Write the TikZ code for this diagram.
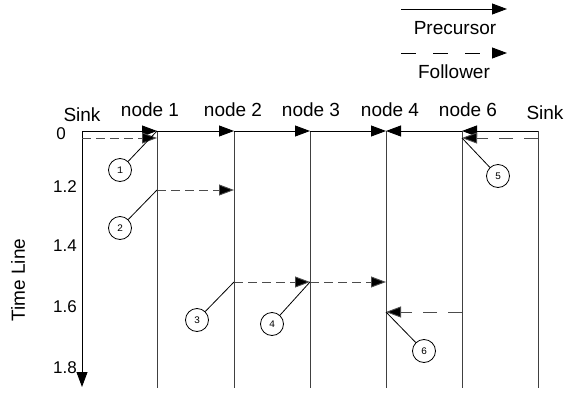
\documentclass[tikz,border=0pt]{standalone}
\usepackage{fontspec}
\setmainfont{Liberation Sans}
\newfontfamily\numfont{Liberation Mono}
\usetikzlibrary{arrows.meta}
\begin{document}
\begin{tikzpicture}[x=1pt,y=-1pt,
  head/.style={text=black, font=\fontsize{19}{21}\selectfont, inner sep=0pt},
  ticklbl/.style={font=\fontsize{17}{19}\selectfont, inner sep=0pt},
  lane/.style={draw=black!75, line width=0.9pt},
  tip/.tip={Triangle[length=15pt,width=11pt]},
  prec/.style={draw=black, line width=0.9pt, -tip},
  foll/.style={draw=black!70, line width=0.9pt, dash pattern=on 9pt off 5pt,
               -{Triangle[length=15pt,width=11pt,fill=black]}},
  lfoll/.style={draw=black!70, line width=0.9pt, dash pattern=on 14pt off 11pt,
               -{Triangle[length=15pt,width=11pt,fill=black]}},
  tag/.style={circle, draw=black, line width=0.8pt, minimum size=23pt, inner sep=0pt,
              font=\numfont\fontsize{10}{11}\selectfont},
  lead/.style={draw=black, line width=0.8pt},
]
\useasboundingbox (0,0) rectangle (566,394);

% lane tops, bottoms and message levels
\coordinate (s0) at (82,131);   \coordinate (s0b) at (82,387);
\coordinate (n1) at (157,131);  \coordinate (n1b) at (157,388);
\coordinate (n2) at (234,131);  \coordinate (n2b) at (234,388);
\coordinate (n3) at (310,131);  \coordinate (n3b) at (310,388);
\coordinate (n4) at (386,131);  \coordinate (n4b) at (386,388);
\coordinate (n6) at (462,131);  \coordinate (n6b) at (462,388);
\coordinate (sr) at (538,131);  \coordinate (srb) at (538,388);

\coordinate (s0d) at (82,138);  \coordinate (n1d) at (157,138);
\coordinate (srd) at (538,138); \coordinate (n6d) at (462,138);
\coordinate (n1m) at (157,190); \coordinate (n2m) at (234,190);
\coordinate (n2p) at (234,282); \coordinate (n3p) at (310,282); \coordinate (n4p) at (386,282);
\coordinate (n6q) at (462,312); \coordinate (n4q) at (386,312);

% lanes
\draw[lane] (n1) -- (n1b);
\draw[lane] (n2) -- (n2b);
\draw[lane] (n3) -- (n3b);
\draw[lane] (n4) -- (n4b);
\draw[lane] (n6) -- (n6b);
\draw[lane] (sr) -- (srb);
\draw[prec] (s0) -- (s0b);

% precursor messages along the top
\draw[prec] (s0) -- (n1);
\draw[prec] (n1) -- (n2);
\draw[prec] (n2) -- (n3);
\draw[prec] (n3) -- (n4);
\draw[prec] (n6) -- (n4);
\draw[prec] (sr) -- (n6);

% follower messages
\draw[foll] (s0d) -- (n1d);
\draw[lfoll] (srd) -- (n6d);
\draw[foll] (n1m) -- (n2m);
\draw[foll] (n2p) -- (n3p);
\draw[foll] (n3p) -- (n4p);
\draw[lfoll] (n6q) -- (n4q);

% numbered tags
\node[tag] (t1) at (120,170) {1};
\node[tag] (t2) at (120,228) {2};
\node[tag] (t3) at (197,320) {3};
\node[tag] (t4) at (272,324) {4};
\node[tag] (t5) at (498,176) {5};
\node[tag] (t6) at (424,351) {6};
\draw[lead] (t1) -- (n1);
\draw[lead] (t2) -- (n1m);
\draw[lead] (t3) -- (n2p);
\draw[lead] (t4) -- (n3p);
\draw[lead] (t5) -- (n6d);
\draw[lead] (t6) -- (n4q);

% lane headings
\node[head] (hs0) at (82,115) {Sink};
\node[head] (h1) at (150,110) {node 1};
\node[head] (h2) at (233,110) {node 2};
\node[head] (h3) at (311,110) {node 3};
\node[head] (h4) at (390,110) {node 4};
\node[head] (h6) at (468,110) {node 6};
\node[head] (hsr) at (545,113) {Sink};

% time axis
\node[ticklbl] (y0) at (61,134) {0};
\node[ticklbl] (y1) at (65,187) {1.2};
\node[ticklbl] (y2) at (65,246) {1.4};
\node[ticklbl] (y3) at (65,307) {1.6};
\node[ticklbl] (y4) at (65,368) {1.8};
\node[head, rotate=90] (tl) at (18,280) {Time Line};

% legend
\coordinate (pa) at (401,9);  \coordinate (pb) at (507,9);
\coordinate (fa) at (401,53); \coordinate (fb) at (507,53);
\draw[prec] (pa) -- (pb);
\draw[draw=black, line width=0.9pt, dash pattern=on 15pt off 17pt, -tip] (fa) -- (fb);
\node[head] (lp) at (455,28) {Precursor};
\node[head] (lf) at (454,72) {Follower};
\end{tikzpicture}
\end{document}
